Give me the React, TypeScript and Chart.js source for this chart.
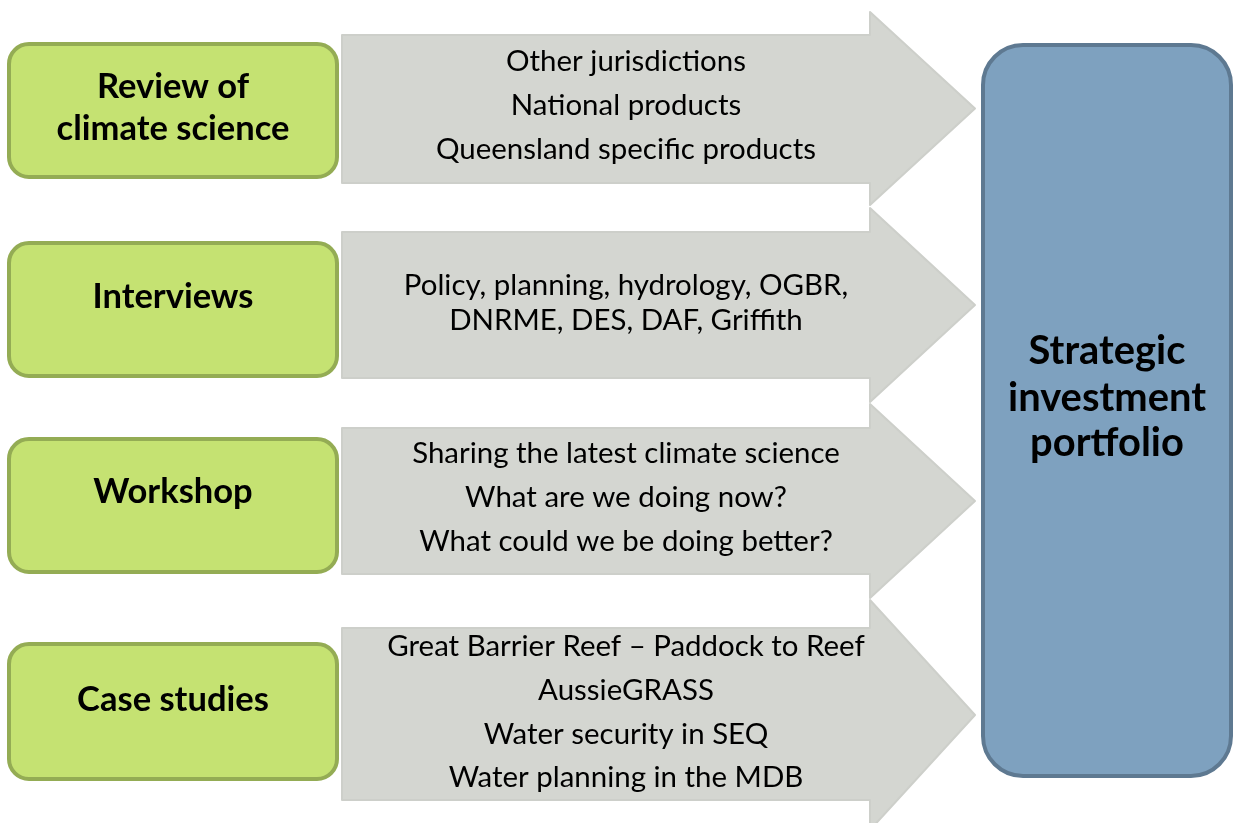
import React, { useEffect, useRef } from "react";
import { Chart, registerables } from "chart.js";
Chart.register(...registerables);

// ---- content ----
const sourceLabels: string[][] = [["Review of", "climate science"], ["Interviews"], ["Workshop"], ["Case studies"]];
const arrowLines: string[][] = [
  ["Other jurisdictions", "National products", "Queensland specific products"],
  ["Policy, planning, hydrology, OGBR,", "DNRME, DES, DAF, Griffith"],
  ["Sharing the latest climate science", "What are we doing now?", "What could we be doing better?"],
  ["Great Barrier Reef \u2013 Paddock to Reef", "AussieGRASS", "Water security in SEQ", "Water planning in the MDB"],
];
const targetLabel: string[] = ["Strategic", "investment", "portfolio"];

// ---- layout (scale units) ----
const W = 1233;
const H = 823;
const boxX: [number, number] = [9, 337];
const boxY: [number, number][] = [[44, 177], [243, 376], [439, 572], [644, 779]];
const boxTextY: number[][] = [[87, 129], [297], [492], [700]];
const boxTextX = 173;
const arrowX = { left: 342, body: 870, tip: 975 };
const arrowBodyY: [number, number][] = [[35, 183], [232, 378], [428, 574], [628, 800]];
const arrowHeadY: [number, number][] = [[12, 205], [208, 402], [404, 598], [600, 830]];
const arrowTextX = 626;
const arrowTextY: number[][] = [[61, 105, 149], [285, 320], [453, 497, 541], [646, 690, 734, 777]];
const targetX: [number, number] = [983, 1231];
const targetY: [number, number] = [45, 776];
const targetTextX = 1107;
const targetTextY = [351, 398, 443];

const FAMILY = "Lato, 'Open Sans', sans-serif";

function fitSize(ctx: CanvasRenderingContext2D, text: string, weight: string, target: number): number {
  ctx.font = `${weight} 100px ${FAMILY}`;
  const w = ctx.measureText(text).width;
  return (100 * target) / w;
}

const diagramPlugin = {
  id: "diagram",
  afterDraw(chart: any) {
    const ctx: CanvasRenderingContext2D = chart.ctx;
    const xs = chart.scales.x;
    const ys = chart.scales.y;
    const px = (v: number) => xs.getPixelForValue(v);
    const py = (v: number) => ys.getPixelForValue(v);

    ctx.save();
    // sizes calibrated against reference widths
    const arrowSize = fitSize(ctx, "Queensland specific products", "400", 380);
    const boxSize = fitSize(ctx, "climate science", "700", 233);
    const targetSize = fitSize(ctx, "investment", "700", 198);

    // arrows
    arrowBodyY.forEach((by, i) => {
      const hy = arrowHeadY[i];
      const tipY = (hy[0] + hy[1]) / 2;
      ctx.beginPath();
      ctx.moveTo(px(arrowX.left), py(by[0]));
      ctx.lineTo(px(arrowX.body), py(by[0]));
      ctx.lineTo(px(arrowX.body), py(hy[0]));
      ctx.lineTo(px(arrowX.tip), py(tipY));
      ctx.lineTo(px(arrowX.body), py(hy[1]));
      ctx.lineTo(px(arrowX.body), py(by[1]));
      ctx.lineTo(px(arrowX.left), py(by[1]));
      ctx.closePath();
      ctx.fillStyle = "#d4d6d1";
      ctx.fill();
      ctx.lineJoin = "round";
      ctx.lineWidth = 2;
      ctx.strokeStyle = "#cdcfca";
      ctx.stroke();
    });

    // green boxes
    boxY.forEach((by) => {
      ctx.beginPath();
      (ctx as any).roundRect(px(boxX[0]), py(by[0]), px(boxX[1]) - px(boxX[0]), py(by[1]) - py(by[0]), 20);
      ctx.fillStyle = "#c5e272";
      ctx.fill();
      ctx.lineWidth = 4;
      ctx.strokeStyle = "#94ac54";
      ctx.stroke();
    });

    // target box
    ctx.beginPath();
    (ctx as any).roundRect(px(targetX[0]), py(targetY[0]), px(targetX[1]) - px(targetX[0]), py(targetY[1]) - py(targetY[0]), 40);
    ctx.fillStyle = "#7ea1bf";
    ctx.fill();
    ctx.lineWidth = 4;
    ctx.strokeStyle = "#5e7991";
    ctx.stroke();

    // texts
    ctx.fillStyle = "#000";
    ctx.textAlign = "center";
    ctx.textBaseline = "middle";
    ctx.font = `400 ${arrowSize}px ${FAMILY}`;
    arrowLines.forEach((lines, i) => {
      lines.forEach((t, j) => ctx.fillText(t, px(arrowTextX), py(arrowTextY[i][j])));
    });
    ctx.font = `700 ${boxSize}px ${FAMILY}`;
    sourceLabels.forEach((lines, i) => {
      lines.forEach((t, j) => ctx.fillText(t, px(boxTextX), py(boxTextY[i][j])));
    });
    ctx.font = `700 ${targetSize}px ${FAMILY}`;
    targetLabel.forEach((t, j) => ctx.fillText(t, px(targetTextX), py(targetTextY[j])));
    ctx.restore();
  },
};

export default function App() {
  const ref = useRef<HTMLCanvasElement | null>(null);
  useEffect(() => {
    document.body.style.margin = "0";
    const canvas = ref.current;
    if (!canvas) return;
    const chart = new Chart(canvas, {
      type: "scatter",
      data: { datasets: [{ data: [], pointRadius: 0 }] },
      options: {
        animation: false,
        responsive: false,
        devicePixelRatio: 1,
        layout: { padding: 0 },
        plugins: { legend: { display: false }, tooltip: { enabled: false }, title: { display: false } },
        scales: {
          x: { type: "linear", min: 0, max: W, display: false },
          y: { type: "linear", min: 0, max: H, reverse: true, display: false },
        },
      },
      plugins: [diagramPlugin],
    });
    return () => chart.destroy();
  }, []);
  return (
    <div style={{ position: "absolute", left: 0, top: 0, width: W, height: H, background: "#fff" }}>
      <canvas ref={ref} width={W} height={H} style={{ display: "block" }} />
    </div>
  );
}
